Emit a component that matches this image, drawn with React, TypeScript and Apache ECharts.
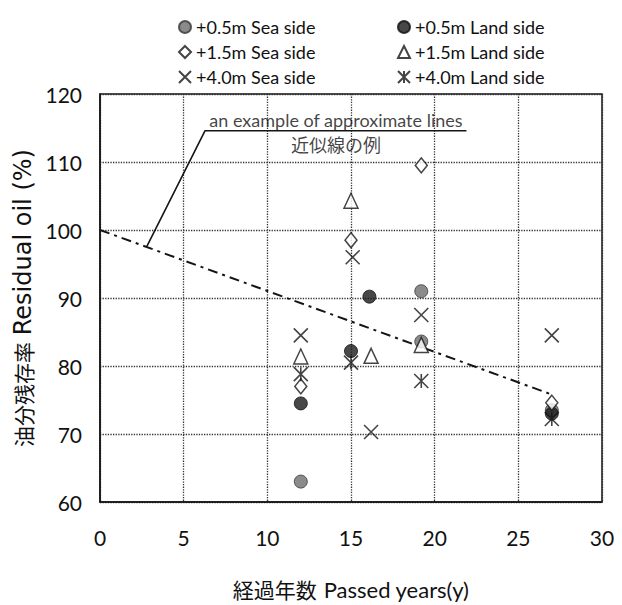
import React, { useEffect, useRef } from "react";
import * as echarts from "echarts";

const xTicks = [0, 5, 10, 15, 20, 25, 30];
const yTicks = [60, 70, 80, 90, 100, 110, 120];

const seaNames = ["+0.5m Sea side", "+1.5m Sea side", "+4.0m Sea side"];
const landNames = ["+0.5m Land side", "+1.5m Land side", "+4.0m Land side"];

const seaHalf = [[12, 63], [19.2, 91], [19.2, 83.6], [27, 73.5]];
const landHalf = [[12, 74.5], [16.1, 90.2], [15, 82.2], [27, 73]];
const seaOneHalf = [[19.2, 109.5], [15, 98.5], [12, 77], [27, 74.6]];
const landOneHalf = [[15, 104.3], [12, 81.4], [16.2, 81.5], [19.2, 83.1]];
const seaFour = [[12, 84.5], [15.1, 96], [19.2, 87.5], [16.2, 70.3], [27, 84.5]];
const landFour = [[12, 78.8], [15, 80.5], [19.2, 77.8], [27, 72.2]];

const approxLine = [[0, 100], [27, 75.8]];
const leaderLine = [[2.8, 97.6], [6.28, 114.6], [21.9, 114.6]];
const labelAnchor = [14.1, 114.6];
const labelTop = "an example of approximate lines";
const labelBottom = "近似線の例";

const X_PATH = "path://M0,0L10,10M10,0L0,10";
const AST_PATH = "path://M0,0L10,10M10,0L0,10M5,0L5,10";

const LAT = "Lato, 'Noto Sans', sans-serif";
const CJK = "'Noto Sans CJK JP', sans-serif";

export default function App() {
  const ref = useRef<HTMLDivElement>(null);
  useEffect(() => {
    if (!ref.current) return;
    const chart = echarts.init(ref.current, null, { renderer: "svg" });
    const lineItem = { color: "transparent", borderColor: "#151515", borderWidth: 1.6 };
    const legendBase = {
      orient: "vertical",
      top: 13,
      itemGap: 7,
      itemWidth: 12,
      itemHeight: 12,
      textStyle: { fontSize: 18, fontFamily: LAT, color: "#111" },
    };
    chart.setOption({
      animation: false,
      backgroundColor: "#fff",
      legend: [
        { ...legendBase, data: seaNames, left: 173 },
        { ...legendBase, data: landNames, left: 392 },
      ],
      grid: {
        left: 100,
        right: 20,
        top: 94,
        bottom: 101,
        show: true,
        borderColor: "#151515",
        borderWidth: 1.5,
        containLabel: false,
      },
      xAxis: {
        type: "value",
        min: xTicks[0],
        max: xTicks[xTicks.length - 1],
        interval: 5,
        name: "{c|経過年数}  {l|Passed years(y)}",
        nameLocation: "middle",
        nameGap: 76,
        nameTextStyle: {
          rich: {
            c: { fontSize: 21, fontFamily: CJK, color: "#111" },
            l: { fontSize: 22, fontFamily: LAT, color: "#111" },
          },
        },
        axisLine: { show: true, lineStyle: { color: "#151515", width: 1.5 } },
        axisTick: { show: false },
        axisLabel: { fontSize: 21, fontFamily: LAT, color: "#111", margin: 25 },
        splitLine: { show: true, lineStyle: { type: "dotted", color: "#333", width: 1.3 } },
      },
      yAxis: {
        type: "value",
        min: yTicks[0],
        max: yTicks[yTicks.length - 1],
        interval: 10,
        name: "{c|油分残存率}  {l|Residual oil (%)}",
        nameLocation: "middle",
        nameGap: 64,
        nameTextStyle: {
          rich: {
            c: { fontSize: 21, fontFamily: CJK, color: "#111" },
            l: { fontSize: 24, fontFamily: "'DejaVu Sans', sans-serif", color: "#111" },
          },
        },
        axisLine: { show: true, lineStyle: { color: "#151515", width: 1.5 } },
        axisTick: { show: false },
        axisLabel: { fontSize: 21, fontFamily: LAT, color: "#111", margin: 18 },
        splitLine: { show: true, lineStyle: { type: "dotted", color: "#333", width: 1.3 } },
      },
      series: [
        {
          type: "line",
          data: approxLine,
          symbol: "none",
          silent: true,
          lineStyle: { color: "#151515", width: 2, type: [10, 5, 3, 5] },
          z: 1,
        },
        {
          type: "line",
          data: leaderLine,
          symbol: "none",
          silent: true,
          lineStyle: { color: "#151515", width: 1.6, type: "solid" },
          z: 1,
        },
        {
          type: "scatter",
          data: [labelAnchor],
          symbolSize: 0,
          silent: true,
          label: {
            show: true,
            position: "top",
            distance: 2,
            formatter: labelTop,
            fontSize: 18,
            fontFamily: LAT,
            color: "#111",
          },
        },
        {
          type: "scatter",
          data: [labelAnchor],
          symbolSize: 0,
          silent: true,
          label: {
            show: true,
            position: "bottom",
            distance: 4,
            formatter: labelBottom,
            fontSize: 18,
            fontFamily: CJK,
            color: "#111",
          },
        },
        {
          name: seaNames[0],
          type: "scatter",
          data: seaHalf,
          symbol: "circle",
          symbolSize: 13,
          itemStyle: { color: "#6e6e6e", borderColor: "#3a3a3a", borderWidth: 1 },
          z: 3,
        },
        {
          name: landNames[0],
          type: "scatter",
          data: landHalf,
          symbol: "circle",
          symbolSize: 13,
          itemStyle: { color: "#1a1a1a", borderColor: "#111", borderWidth: 1 },
          z: 3,
        },
        {
          name: seaNames[1],
          type: "scatter",
          data: seaOneHalf,
          symbol: "diamond",
          symbolSize: [12, 15],
          itemStyle: { color: "#fff", borderColor: "#151515", borderWidth: 1.5 },
          z: 4,
        },
        {
          name: landNames[1],
          type: "scatter",
          data: landOneHalf,
          symbol: "triangle",
          symbolSize: [14, 15],
          itemStyle: { color: "#fff", borderColor: "#151515", borderWidth: 1.5 },
          z: 4,
        },
        {
          name: seaNames[2],
          type: "scatter",
          data: seaFour,
          symbol: X_PATH,
          symbolSize: 14,
          itemStyle: lineItem,
          z: 5,
        },
        {
          name: landNames[2],
          type: "scatter",
          data: landFour,
          symbol: AST_PATH,
          symbolSize: 14,
          itemStyle: lineItem,
          z: 5,
        },
      ],
    });
    return () => chart.dispose();
  }, []);
  return (
    <div
      ref={ref}
      style={{ position: "fixed", left: 0, top: 0, width: 622, height: 605, background: "#fff" }}
    />
  );
}
